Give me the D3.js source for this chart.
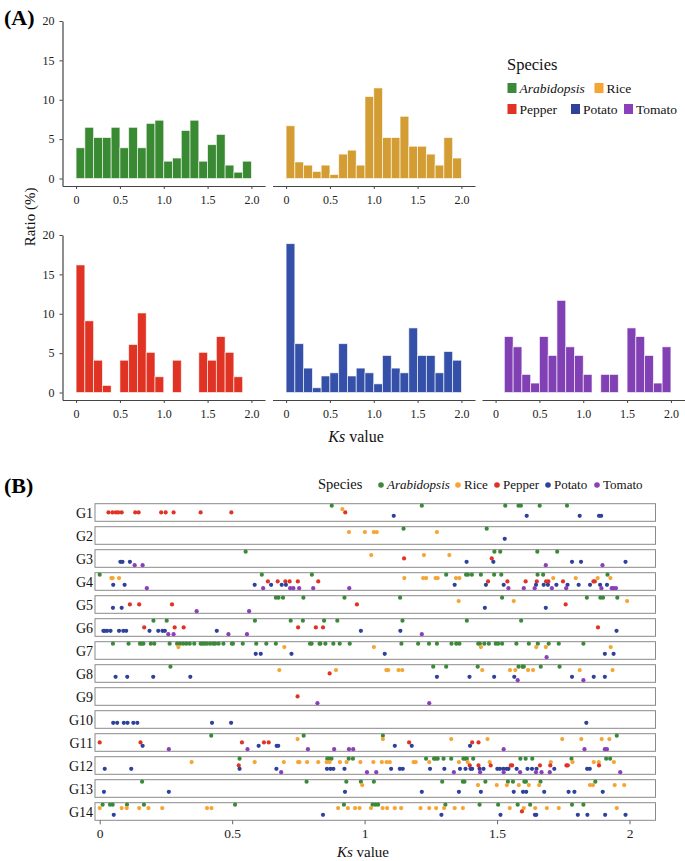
<!DOCTYPE html>
<html><head><meta charset="utf-8">
<script src="https://cdn.jsdelivr.net/npm/d3@7"></script>
<style>body{margin:0;background:#fff}svg{display:block}</style>
</head><body>
<script>
// ---------- DATA ----------
const species = ["Arabidopsis","Rice","Pepper","Potato","Tomato"];
const barColors = ["#3a8a33","#d49d33","#e03323","#3450a8","#8240b5"];
const dotColors = ["#3b8a3a","#f5a533","#e03325","#2e429a","#8b3fb9"];
const binStarts = [0,0.1,0.2,0.3,0.4,0.5,0.6,0.7,0.8,0.9,1.0,1.1,1.2,1.3,1.4,1.5,1.6,1.7,1.8,1.9];
const binWidth = 0.1;
const ratioArabidopsis = [3.9,6.5,5.2,5.2,6.5,3.9,6.5,3.9,7.0,7.4,2.2,2.6,6.1,7.4,2.2,4.3,5.6,1.7,0.8,2.2];
const ratioRice        = [6.7,2.1,1.7,0.9,1.7,0.5,3.1,3.6,1.7,10.4,11.5,5.2,5.2,7.9,4.1,4.1,3.1,1.7,5.2,2.6];
const ratioPepper      = [16.2,9.1,4.1,0.9,0,4.1,6.1,10.1,5.1,2.0,0,4.1,0,0,5.1,4.1,7.1,5.1,2.0,0];
const ratioPotato      = [18.9,6.2,3.1,0.6,2.1,2.5,6.2,2.1,3.1,2.5,1.1,4.7,3.1,2.5,8.2,4.7,4.7,2.5,5.2,4.1];
const ratioTomato      = [0,7.1,5.8,2.3,1.2,7.1,4.7,11.7,5.8,4.7,2.3,0,2.3,2.3,0,8.2,7.1,4.7,1.2,5.8];
const yTicksA = [0,5,10,15,20];
const xTicksA = [0,0.5,1,1.5,2];
const xTickLabelsA = ["0","0.5","1.0","1.5","2.0"];

const groups = ["G1","G2","G3","G4","G5","G6","G7","G8","G9","G10","G11","G12","G13","G14"];
const ksArabidopsis = [
 [0.876,1.216,1.531,1.581,1.590,1.661,1.764],
 [1.147,1.461],
 [0.551,1.490,1.512,1.652,1.727],
 [0.0,0.612,0.801,1.308,1.383,1.390,1.405,1.439,1.489,1.516,1.653,1.674,1.917],
 [0.665,0.675,0.692,0.769,0.924,1.134,1.519,1.839,1.890,1.900,1.954],
 [0.203,0.253,0.586,0.721,0.767,0.847,0.897,1.143,1.386,1.591],
 [0.050,0.109,0.152,0.158,0.165,0.193,0.206,0.264,0.292,0.303,0.315,0.327,0.340,0.357,0.381,0.388,0.396,0.405,0.417,0.429,0.436,0.449,0.467,0.499,0.503,0.540,0.591,0.629,0.665,0.794,0.800,0.830,0.833,0.852,0.882,0.906,0.944,1.139,1.202,1.243,1.273,1.328,1.346,1.358,1.429,1.435,1.452,1.469,1.495,1.504,1.519,1.573,1.620,1.654,1.695,1.733,1.826],
 [0.267,1.259,1.308,1.427,1.581,1.596,1.601,1.665,1.736],
 [],
 [],
 [0.421,0.770,1.069,1.952],
 [0.528,0.859,0.866,0.875,0.940,0.956,1.232,1.262,1.268,1.276,1.298,1.327,1.373,1.380,1.386,1.410,1.588,1.608,1.633,1.781,1.912,1.927],
 [0.160,0.781,0.931,0.986,1.035,1.293,1.371,1.377,1.456,1.541,1.560,1.603,1.609,1.664,1.871],
 [0.011,0.039,0.049,0.103,0.167,0.511,0.922,1.030,1.041,1.051,1.305,1.434,1.504,1.578,1.625,1.783,1.826]
];
const ksRice = [
 [0.916],
 [0.941,1.001,1.035,1.046,1.273],
 [1.025,1.224,1.320],
 [0.044,0.049,0.073,1.150,1.221,1.232,1.268,1.276,1.345,1.358,1.712,1.797,1.880,1.928],
 [1.355,1.563,1.991],
 [],
 [0.297,0.697,1.035,1.439,1.648,1.684,1.929],
 [0.678,0.892,1.082,1.089,1.128,1.142,1.444,1.549,1.569,1.617,1.636,1.812,1.936],
 [],
 [],
 [0.747,1.069,1.327,1.464,1.746,1.818,1.895,1.924],
 [0.347,0.585,0.695,0.749,0.754,0.783,0.825,0.857,0.868,0.907,0.932,0.984,1.033,1.065,1.083,1.095,1.185,1.193,1.244,1.356,1.389,1.472,1.703,1.785,1.865,1.884,1.941],
 [0.991,1.428,1.499,1.537,1.582,1.620,1.659,1.851,1.862,1.944,1.980],
 [0.000,0.083,0.102,0.149,0.184,0.236,0.405,0.422,0.900,0.937,0.964,0.981,1.024,1.068,1.085,1.114,1.138,1.211,1.244,1.270,1.300,1.340,1.371,1.548,1.601,1.644,1.688,1.733,1.952]
];
const ksPepper = [
 [0.033,0.048,0.061,0.070,0.083,0.134,0.147,0.232,0.249,0.279,0.381,0.497,0.927],
 [],
 [1.149,1.480],
 [0.635,0.672,0.701,0.717,0.748,0.825,1.466,1.539,1.608,1.650,1.685,1.694,1.749,1.864,1.869],
 [0.114,0.149,0.273,0.971,1.759],
 [0.168,0.283,0.317,0.749,0.816,0.843,1.881],
 [],
 [0.868],
 [0.747],
 [],
 [0.000,0.154,0.537,0.620,0.638,1.168,1.406,1.430],
 [0.525,1.397,1.430,1.476,1.552,1.557,1.662,1.701,1.762,1.767,1.885],
 [],
 [1.594]
];
const ksPotato = [
 [1.110,1.612,1.812,1.885,1.893],
 [1.529],
 [0.078,0.086,0.114,1.385,1.486,1.783,1.817,1.985],
 [0.051,0.094,0.585,0.647,0.687,0.703,1.340,1.458,1.525,1.647,1.676,1.692,1.724,1.766,1.808,1.851,1.889,1.915],
 [0.050,0.083,1.454,1.684],
 [0.014,0.020,0.028,0.041,0.073,0.089,0.100,0.188,0.221,0.237,0.246,0.442,0.986,1.135,1.951],
 [0.589,0.608,0.724,1.076,1.907,1.940],
 [0.060,0.104,0.202,0.342,1.273,1.396,1.489,1.565,1.783,1.865,1.907],
 [],
 [0.051,0.066,0.091,0.105,0.127,0.142,0.424,0.496,1.837],
 [0.162,0.600,0.668,0.674,1.114,1.178,1.398],
 [0.019,0.119,0.528,0.667,0.858,0.871,0.882,0.924,1.100,1.133,1.144,1.247,1.301,1.360,1.381,1.400,1.406,1.434,1.449,1.501,1.511,1.524,1.536,1.543,1.574,1.615,1.632,1.649,1.716,1.840,1.850],
 [0.016,0.261,0.926,1.216,1.356,1.439,1.563,1.598,1.610,1.678,1.770,1.792,1.899],
 [0.053,0.843,1.290,1.513,1.643,1.648,1.805,1.841,1.908,1.985]
];
const ksTomato = [
 [],
 [],
 [0.132,0.162,1.684,1.898],
 [0.178,0.617,0.719,0.731,0.753,0.806,0.942,1.543,1.601,1.642,1.707,1.761,1.894,1.933,1.940,1.949],
 [0.366,0.564],
 [0.259,0.279,0.486,0.556,1.216],
 [1.687],
 [1.578,1.826],
 [0.822,1.244],
 [],
 [0.261,0.558,0.786,0.885,0.941,0.957,1.525,1.830,1.907,1.915],
 [0.685,1.009,1.044,1.337,1.436,1.525,1.587,1.647,1.668,1.699,1.965],
 [],
 []
];
const xTicksB = [0,0.5,1,1.5,2];
const xTickLabelsB = ["0","0.5","1","1.5","2"];

// ---------- DRAW ----------
const W = 685, H = 861;
const FONT = "'Liberation Serif','Times New Roman',serif";
const svg = d3.select("body").append("svg").attr("width", W).attr("height", H)
  .style("font-family", FONT);

// Panel labels
svg.append("text").attr("x", 4).attr("y", 25).attr("font-size", 22).attr("font-weight", "bold").text("(A)");
svg.append("text").attr("x", 4).attr("y", 493).attr("font-size", 22).attr("font-weight", "bold").text("(B)");

// ---- Panel A ----
const ratios = [ratioArabidopsis, ratioRice, ratioPepper, ratioPotato, ratioTomato];
const facetPos = [[0,0],[0,1],[1,0],[1,1],[1,2]];
const colLeft = [62.5, 272.5, 482];
const panelW = 202.5;
const rowTop = [21, 235];
const rowBottom = [186, 400];
const xDomA = [-0.155, 2.155];
const yDomA = [-0.95, 20];

ratios.forEach((vals, i) => {
  const [r, c] = facetPos[i];
  const xs = d3.scaleLinear().domain(xDomA).range([colLeft[c], colLeft[c] + panelW]);
  const ys = d3.scaleLinear().domain(yDomA).range([rowBottom[r], rowTop[r]]);
  const g = svg.append("g");
  g.selectAll("rect").data(binStarts.map((b, k) => ({b, v: vals[k]})).filter(d => d.v > 0))
    .join("rect")
    .attr("x", d => xs(d.b))
    .attr("width", d => xs(d.b + binWidth) - xs(d.b))
    .attr("y", d => ys(d.v))
    .attr("height", d => ys(0) - ys(d.v))
    .attr("fill", barColors[i])
    .attr("stroke", "#ffffff").attr("stroke-opacity", 0.75).attr("stroke-width", 0.8);
  const ax = g.append("g").attr("transform", `translate(0,${rowBottom[r]})`)
    .call(d3.axisBottom(xs).tickValues(xTicksA).tickFormat((d, k) => xTickLabelsA[k])
      .tickSize(3).tickSizeOuter(0).tickPadding(6));
  ax.attr("font-family", FONT);
  ax.select(".domain").attr("stroke", "#444").attr("stroke-width", 1.2);
  ax.selectAll(".tick line").attr("stroke", "#444");
  ax.selectAll("text").attr("font-size", 12).attr("fill", "#222").attr("font-family", FONT);
  if (c === 0) {
    const ay = g.append("g").attr("transform", `translate(${colLeft[c]},0)`)
      .call(d3.axisLeft(ys).tickValues(yTicksA).tickSize(3).tickSizeOuter(0).tickPadding(5));
    ay.attr("font-family", FONT);
    ay.select(".domain").attr("stroke", "#444").attr("stroke-width", 1.2);
    ay.selectAll(".tick line").attr("stroke", "#444");
    ay.selectAll("text").attr("font-size", 12).attr("fill", "#222").attr("font-family", FONT);
  }
});

// axis titles A
svg.append("text").attr("transform", "translate(35,217) rotate(-90)").attr("text-anchor", "middle")
  .attr("font-size", 15).attr("fill", "#111").text("Ratio (%)");
const ksA = svg.append("text").attr("x", 356).attr("y", 442).attr("text-anchor", "middle")
  .attr("font-size", 16).attr("fill", "#111");
ksA.append("tspan").attr("font-style", "italic").text("Ks");
ksA.append("tspan").text(" value");

// legend A
svg.append("text").attr("x", 507).attr("y", 70).attr("font-size", 16.5).attr("fill", "#111").text("Species");
const legA = [
  {i:0, x:507.5, y:83}, {i:1, x:594.5, y:83},
  {i:2, x:507.5, y:104}, {i:3, x:571, y:104}, {i:4, x:624, y:104}
];
legA.forEach(l => {
  svg.append("rect").attr("x", l.x).attr("y", l.y).attr("width", 9).attr("height", 10).attr("fill", dotColors[l.i]);
  svg.append("text").attr("x", l.x + 12).attr("y", l.y + 9.5).attr("font-size", 13.5).attr("fill", "#111")
    .attr("font-style", l.i === 0 ? "italic" : "normal").text(species[l.i]);
});

// ---- Panel B ----
const ksAll = [ksArabidopsis, ksRice, ksPepper, ksPotato, ksTomato];
const xB = d3.scaleLinear().domain([0, 2]).range([99.7, 629.5]);
const boxLeft = 95, boxRight = 655.5;
const rowsB = d3.scaleBand().domain(groups).range([503.7, 503.7 + 23 * 14]).paddingInner(0).paddingOuter(0);
const boxH = 17.6;
const lvl = d3.scalePoint().domain(species).range([2, 15.5]);

const gB = svg.append("g");
groups.forEach((gname, k) => {
  const top = rowsB(gname);
  gB.append("rect").attr("x", boxLeft).attr("y", top).attr("width", boxRight - boxLeft).attr("height", boxH)
    .attr("fill", "none").attr("stroke", "#8a8a8a").attr("stroke-width", 1);
  gB.append("text").attr("x", 93).attr("y", top + boxH / 2 + 5).attr("text-anchor", "end")
    .attr("font-size", 14).attr("fill", "#111").text(gname);
  species.forEach((sp, si) => {
    gB.selectAll(null).data(ksAll[si][k]).join("circle")
      .attr("cx", d => xB(d)).attr("cy", top + lvl(sp)).attr("r", 2.1)
      .attr("fill", dotColors[si]);
  });
});
const axB = svg.append("g").attr("transform", `translate(0,${503.7 + 23 * 13 + boxH})`)
  .call(d3.axisBottom(xB).tickValues(xTicksB).tickFormat((d, k) => xTickLabelsB[k]).tickSize(4).tickPadding(4));
axB.attr("font-family", FONT);
axB.select(".domain").remove();
axB.selectAll(".tick line").attr("stroke", "#666");
axB.selectAll("text").attr("font-size", 13.5).attr("fill", "#222").attr("font-family", FONT);
const ksB = svg.append("text").attr("x", 363).attr("y", 857).attr("text-anchor", "middle")
  .attr("font-size", 15).attr("fill", "#111");
ksB.append("tspan").attr("font-style", "italic").text("Ks");
ksB.append("tspan").text(" value");

// legend B
svg.append("text").attr("x", 318).attr("y", 489).attr("font-size", 14.5).attr("fill", "#111").text("Species");
const legB = [{i:0, x:381}, {i:1, x:458}, {i:2, x:497}, {i:3, x:548}, {i:4, x:597}];
legB.forEach(l => {
  svg.append("circle").attr("cx", l.x).attr("cy", 485).attr("r", 2.8).attr("fill", dotColors[l.i]);
  svg.append("text").attr("x", l.x + 6).attr("y", 489).attr("font-size", 13).attr("fill", "#111")
    .attr("font-style", l.i === 0 ? "italic" : "normal").text(species[l.i]);
});
</script>
</body></html>
